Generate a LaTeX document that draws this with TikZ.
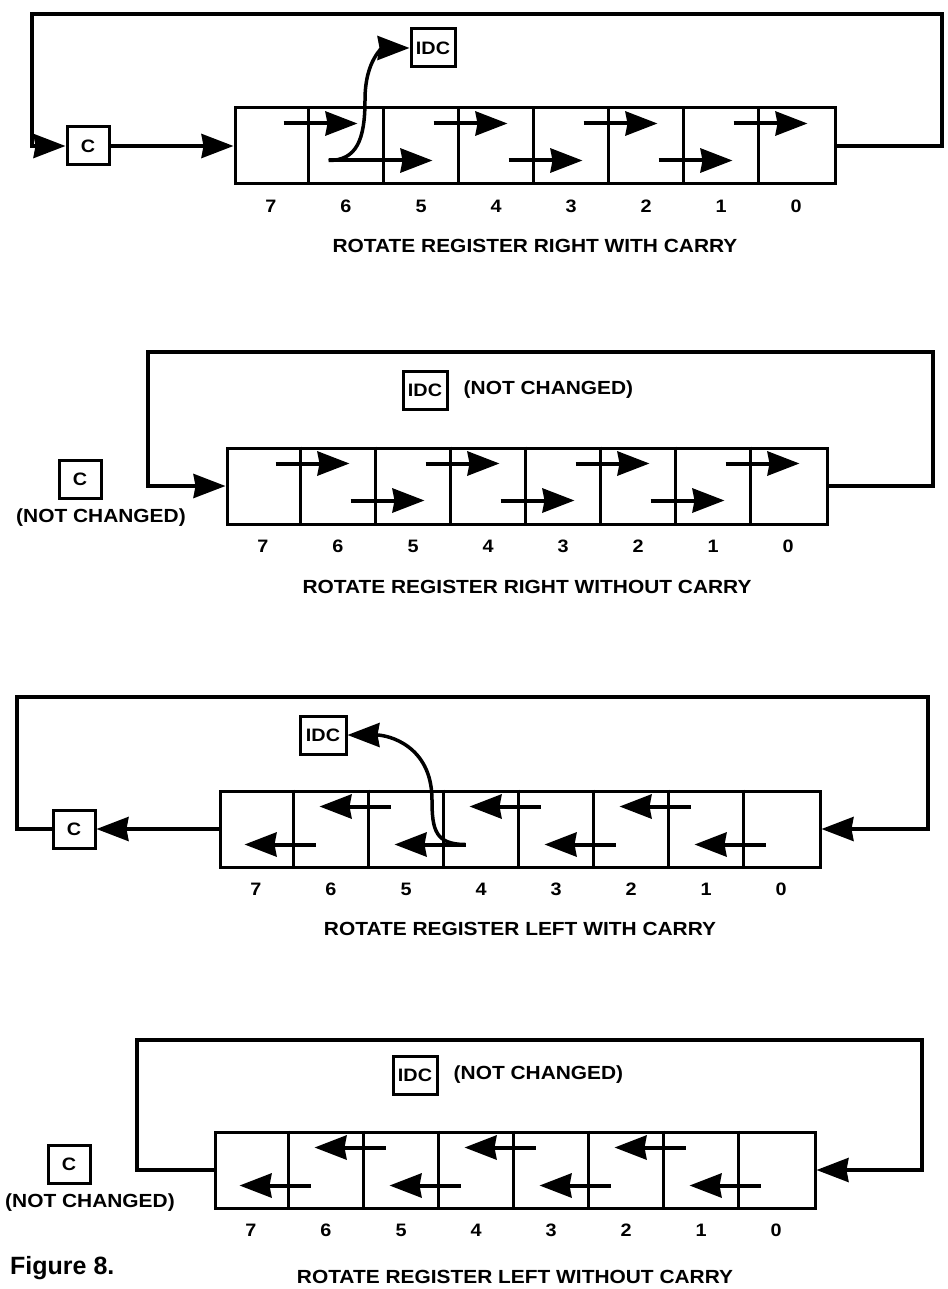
\documentclass[tikz,border=0pt]{standalone}
\usepackage{fontspec}
\setmainfont{Liberation Sans}
\newfontfamily\widefont{Liberation Sans}[FakeStretch=1.1]
\usetikzlibrary{arrows.meta,positioning,calc}
\tikzset{
  reg/.style={draw,line width=3pt,minimum width=600pt,minimum height=76pt,inner sep=0pt},
  flag/.style={draw,line width=3pt,minimum width=42pt,minimum height=38pt,inner sep=0pt,font=\widefont\bfseries\fontsize{18}{20}\selectfont},
  wire/.style={line width=3pt},
  arr/.style={-{Stealth[length=32pt,width=24pt,inset=2pt]},line width=3.5pt},
  bit/.style={font=\widefont\bfseries\fontsize{18}{20}\selectfont,inner sep=0pt},
  lbl/.style={font=\widefont\bfseries\fontsize{19}{22}\selectfont,inner sep=0pt},
}
% cell dividers and bit numbers of a register
\newcommand{\regcells}[1]{%
  \foreach \k in {1,...,7}
    \draw[wire] ($(#1.north west)+(75*\k,0)$) -- ($(#1.south west)+(75*\k,0)$);
  \foreach \b [count=\i from 0] in {7,...,0}
    \node[bit] (#1-\b) at ($(#1.south west)+(37.5+75*\i,21)$) {\b};
}

\begin{document}
\begin{tikzpicture}[x=1pt,y=-1pt]
\useasboundingbox (0,0) rectangle (947,1289);

% rotate right with carry
\node[reg] (reg1) at (535,146) {};
\regcells{reg1}
\node[flag] (c1) at (88,146) {C};
\node[flag,minimum width=44pt] (idc1) at (433,48) {IDC};
\node[lbl,below=54pt of reg1] (cap1) {ROTATE REGISTER RIGHT WITH CARRY};
\coordinate (r1) at (942,14);
\coordinate (l1) at (32,14);
\draw[arr] (reg1.east) -| (r1) -- (l1) |- (c1.west);
\draw[arr] (c1) -- (reg1);
\foreach \k/\dy in {1/17,3/17,5/17,7/17,4/54,6/54}
  \draw[arr,line width=4pt] ($(reg1.north west)+(75*\k-25,\dy)$) -- ++(74,0);
\coordinate (s1) at ($(reg1.north west)+(95,54)$);
\draw[arr,line width=4pt] (s1) -- ++(104,0);
\draw[arr] (s1) .. controls +(28,0) and +(0,40) .. (365,100)
  .. controls +(0,-42) and +(-25,0) .. (idc1.west);

% rotate right without carry
\node[reg] (reg2) at (527,486) {};
\regcells{reg2}
\node[flag] (c2) at (80,479) {C};
\node[lbl,below=9pt of c2,xshift=21pt] (nc2) {(NOT CHANGED)};
\node[flag,minimum width=44pt] (idc2) at (425,390) {IDC};
\node[lbl,right=15pt of idc2] (ni2) {(NOT CHANGED)};
\node[lbl,below=55pt of reg2] (cap2) {ROTATE REGISTER RIGHT WITHOUT CARRY};
\coordinate (r2) at (933,352);
\coordinate (l2) at (148,352);
\draw[arr] (reg2.east) -| (r2) -- (l2) |- (reg2.west);
\foreach \k/\dy in {1/17,2/54,3/17,4/54,5/17,6/54,7/17}
  \draw[arr,line width=4pt] ($(reg2.north west)+(75*\k-25,\dy)$) -- ++(74,0);

% rotate left with carry
\node[reg] (reg3) at (520,829) {};
\regcells{reg3}
\node[flag] (c3) at (74,829) {C};
\node[flag,minimum width=46pt] (idc3) at (323,735) {IDC};
\node[lbl,below=54pt of reg3] (cap3) {ROTATE REGISTER LEFT WITH CARRY};
\coordinate (r3) at (928,697);
\coordinate (l3) at (17,697);
\draw[arr] (c3.west) -| (l3) -- (r3) |- (reg3.east);
\draw[arr] (reg3) -- (c3);
\foreach \k/\dy in {1/55,2/17,3/55,4/17,5/55,6/17,7/55}
  \draw[arr,line width=4pt] ($(reg3.north west)+(75*\k+22,\dy)$) -- ++(-71,0);
\coordinate (t3) at ($(reg3.north west)+(247,55)$);
\draw[arr] (t3) .. controls +(-30,0) and +(0,30) .. (432,800)
  .. controls +(0,-55) and +(40,0) .. (idc3.east);

% rotate left without carry
\node[reg] (reg4) at (515,1170) {};
\regcells{reg4}
\node[flag] (c4) at (69,1164) {C};
\node[lbl,below=9pt of c4,xshift=21pt] (nc4) {(NOT CHANGED)};
\node[flag,minimum width=44pt] (idc4) at (415,1075) {IDC};
\node[lbl,right=15pt of idc4] (ni4) {(NOT CHANGED)};
\node[lbl,below=61pt of reg4] (cap4) {ROTATE REGISTER LEFT WITHOUT CARRY};
\coordinate (r4) at (922,1040);
\coordinate (l4) at (137,1040);
\draw[arr] (reg4.west) -| (l4) -- (r4) |- (reg4.east);
\foreach \k/\dy in {1/55,2/17,3/55,4/17,5/55,6/17,7/55}
  \draw[arr,line width=4pt] ($(reg4.north west)+(75*\k+22,\dy)$) -- ++(-71,0);

\node[font=\bfseries\fontsize{25}{28}\selectfont,anchor=west,inner sep=0pt] (fig) at (10,1268) {Figure 8.};
\end{tikzpicture}
\end{document}
